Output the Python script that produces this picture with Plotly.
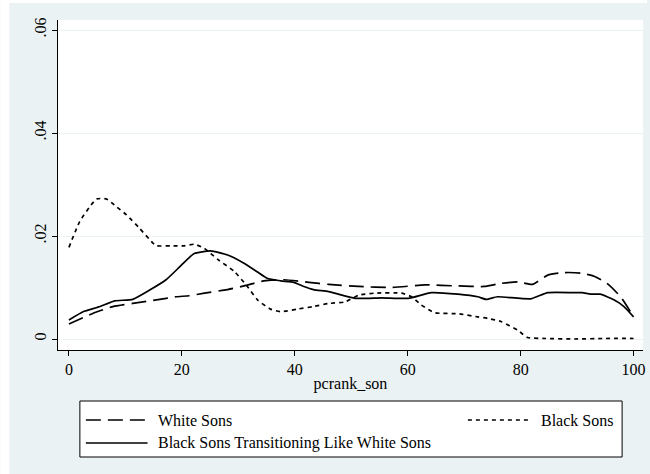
import plotly.graph_objects as go

# Kernel density of son's percentile rank, by group
white_x = [0, 4.3, 7.8, 11.3, 15.5, 19, 21.3, 24, 27.5, 31, 34.5, 38.1, 42.5, 46, 51.3,
           57.1, 63, 68.9, 73.6, 76.5, 79.5, 82.1, 84.8, 87.7, 90.6, 93, 95.3, 97.7, 100]
white_y = [0.0029, 0.0050, 0.0063, 0.0069, 0.0076, 0.0082, 0.0084, 0.0089, 0.0095, 0.0103,
           0.0113, 0.0115, 0.0110, 0.0106, 0.0102, 0.0100, 0.0105, 0.0103, 0.0102, 0.0108,
           0.0111, 0.0106, 0.0124, 0.0129, 0.0128, 0.0122, 0.0108, 0.0082, 0.0043]

black_x = [0, 1.9, 3.7, 4.9, 6.6, 8.4, 10.2, 12.5, 14.9, 15.5, 18, 20.4, 22.2, 24, 26.3,
           29.3, 31.6, 33.4, 35.7, 37.5, 40.4, 43.3, 46, 48.9, 51.3, 54.2, 58.9, 60.7, 62.4,
           64.8, 68.9, 72.4, 74.2, 76.5, 79.5, 81.2, 84.4, 89.5, 95, 100]
black_y = [0.0178, 0.0228, 0.0257, 0.0272, 0.0272, 0.0257, 0.0241, 0.0215, 0.0186, 0.0181,
           0.0181, 0.0181, 0.0184, 0.0176, 0.0155, 0.0131, 0.0102, 0.0076, 0.0058, 0.0053,
           0.0058, 0.0063, 0.0069, 0.0072, 0.0085, 0.0089, 0.0089, 0.0082, 0.0066, 0.0051,
           0.0049, 0.0043, 0.0040, 0.0034, 0.0017, 0.0003, 0.0001, 0.0000, 0.0001, 0.0001]

trans_x = [0, 2.5, 5.5, 8.1, 11.3, 14.3, 17.2, 19.6, 21.3, 22.2, 25.1, 28.1, 31, 33.4, 35.1,
           37.5, 39.8, 41.6, 43.3, 46, 50.7, 55.4, 60.1, 64.2, 68.9, 72.4, 73.9, 75.9, 81.8,
           84.8, 89.5, 90.9, 92.4, 94.1, 96.5, 98.3, 100]
trans_y = [0.0037, 0.0053, 0.0063, 0.0074, 0.0077, 0.0095, 0.0115, 0.0140, 0.0158, 0.0166,
           0.0171, 0.0163, 0.0147, 0.0130, 0.0118, 0.0113, 0.0110, 0.0102, 0.0096, 0.0092,
           0.0079, 0.0080, 0.0079, 0.0090, 0.0087, 0.0082, 0.0077, 0.0082, 0.0078, 0.0090,
           0.0090, 0.0090, 0.0087, 0.0087, 0.0076, 0.0063, 0.0043]

x_ticks = [0, 20, 40, 60, 80, 100]
y_ticks = [0, 0.02, 0.04, 0.06]
y_tick_text = ["0", ".02", ".04", ".06"]

names = ["White Sons", "Black Sons", "Black Sons Transitioning Like White Sons"]
dashes = ["15px,7px", "4px,4px", "solid"]

W, H = 650, 474
ML, MR, MT, MB = 58, 4, 20, 124
PW, PH = W - ML - MR, H - MT - MB
BG = "#EAF2F3"
FONT = "Liberation Serif"
TXT = dict(family=FONT, size=16, color="black")


def px_x(p):
    return (p - ML) / PW


def px_y(p):
    return (H - MB - p) / PH


fig = go.Figure()
for xs, ys, dash in [(white_x, white_y, dashes[0]), (black_x, black_y, dashes[1]),
                     (trans_x, trans_y, dashes[2])]:
    fig.add_trace(go.Scatter(x=xs, y=ys, mode="lines", showlegend=False,
                             line=dict(color="black", width=1.7, dash=dash,
                                       shape="spline", smoothing=0.5)))

shapes = [
    # white frame around the graph region
    dict(type="rect", xref="paper", yref="paper", x0=px_x(0), x1=px_x(9),
         y0=px_y(H), y1=px_y(0), fillcolor="white", line_width=0, layer="below"),
    dict(type="rect", xref="paper", yref="paper", x0=px_x(0), x1=px_x(W),
         y0=px_y(3), y1=px_y(0), fillcolor="white", line_width=0, layer="below"),
    # legend box
    dict(type="rect", xref="paper", yref="paper", x0=px_x(80), x1=px_x(625),
         y0=px_y(457), y1=px_y(401), fillcolor="white",
         line=dict(color="black", width=1)),
]
annotations = []
legend_rows = [(86, 148, 157, 420), (470, 533, 541, 420), (86, 148, 157, 443)]
for (lx0, lx1, tx, ty), name, dash in zip(legend_rows, names, dashes):
    shapes.append(dict(type="line", xref="paper", yref="paper", x0=px_x(lx0), x1=px_x(lx1),
                       y0=px_y(ty), y1=px_y(ty), line=dict(color="black", width=1.7, dash=dash)))
    annotations.append(dict(text=name, xref="paper", yref="paper", x=px_x(tx), y=px_y(ty),
                            xanchor="left", yanchor="middle", showarrow=False, font=TXT))

fig.update_layout(
    width=W, height=H,
    margin=dict(l=ML, r=MR, t=MT, b=MB, pad=0),
    paper_bgcolor=BG, plot_bgcolor="white",
    font=TXT,
    shapes=shapes, annotations=annotations,
    xaxis=dict(range=[-1.938, 101.67], tickvals=x_ticks, ticks="outside", ticklen=5,
               tickcolor="black", showline=True, linecolor="black", linewidth=1,
               showgrid=False, zeroline=False,
               title=dict(text="pcrank_son", standoff=0, font=TXT),
               tickfont=TXT),
    yaxis=dict(range=[-0.002136, 0.061942], tickvals=y_ticks, ticktext=y_tick_text,
               tickangle=-90, ticks="outside", ticklen=5, tickcolor="black",
               showline=True, linecolor="black", linewidth=1, showgrid=True,
               gridcolor=BG, gridwidth=1, zeroline=False, tickfont=TXT),
)

fig.write_html("out.html")
